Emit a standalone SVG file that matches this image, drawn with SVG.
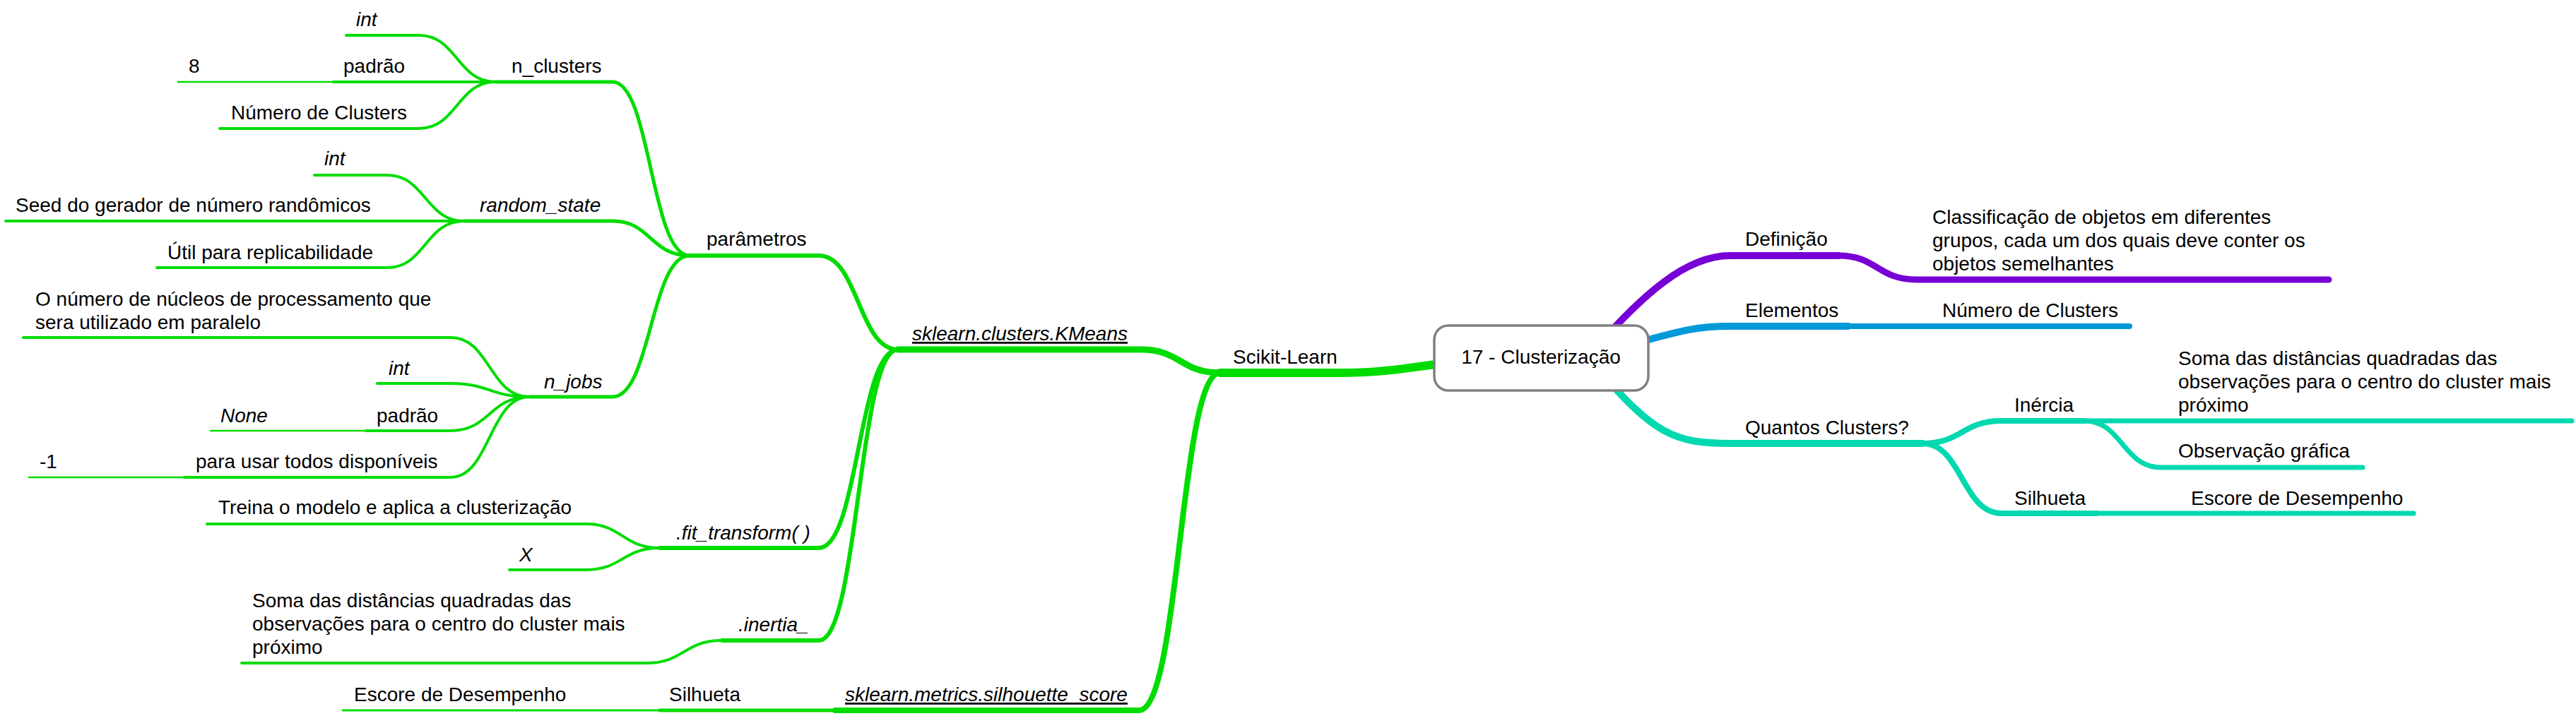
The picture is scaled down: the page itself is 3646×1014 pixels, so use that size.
<svg xmlns="http://www.w3.org/2000/svg" width="3646" height="1014" viewBox="0 0 3646 1014">
<style>
text{font-family:"Liberation Sans",Arial,Helvetica,sans-serif;font-size:28px;fill:#000}
.i{font-style:italic}
.u{text-decoration:underline}
path{fill:none;stroke-linecap:round;stroke-linejoin:round}
.g{stroke:#00dc00}
.p{stroke:#7700d6}
.b{stroke:#0099d8}
.t{stroke:#00d8b0}
</style>
<rect width="3646" height="1014" fill="#fff"/>
<g id="connectors">
<path class="g" stroke-width="4" d="M490 50H593C647 50 647 116 701 116"/>
<path class="g" stroke-width="4" d="M472 116H701"/>
<path class="g" stroke-width="2.5" d="M252 116H472"/>
<path class="g" stroke-width="4" d="M311 182H593C647 182 647 116 701 116"/>
<path class="g" stroke-width="5" d="M701 116H867C921 116 921 362 976 362"/>
<path class="g" stroke-width="4" d="M445 248H548C602 248 602 313 657 313"/>
<path class="g" stroke-width="4" d="M8 313H657"/>
<path class="g" stroke-width="5" d="M657 313H867C921 313 921 362 976 362"/>
<path class="g" stroke-width="4" d="M222 379H548C602 379 602 313 657 313"/>
<path class="g" stroke-width="6" d="M976 362H1159C1215 362 1215 495 1271 495"/>
<path class="g" stroke-width="4" d="M33 478H638C693 478 693 562 749 562"/>
<path class="g" stroke-width="4" d="M534 543H638C693 543 693 562 749 562"/>
<path class="g" stroke-width="5" d="M749 562H867C921 562 921 362 976 362"/>
<path class="g" stroke-width="4" d="M518 610H638C693 610 693 562 749 562"/>
<path class="g" stroke-width="2.5" d="M298 610H518"/>
<path class="g" stroke-width="4" d="M261 676H638C693 676 693 562 749 562"/>
<path class="g" stroke-width="2.5" d="M41 676H261"/>
<path class="g" stroke-width="4" d="M293 742H829C881 742 881 776 934 776"/>
<path class="g" stroke-width="4" d="M721 807H829C881 807 881 776 934 776"/>
<path class="g" stroke-width="6" d="M934 776H1159C1215 776 1215 495 1271 495"/>
<path class="g" stroke-width="4" d="M342 939H915C968 939 968 907 1022 907"/>
<path class="g" stroke-width="6" d="M1022 907H1159C1215 907 1215 495 1271 495"/>
<path class="g" stroke-width="3" d="M485 1006H934"/>
<path class="g" stroke-width="5" d="M934 1006H1182"/>
<path class="g" stroke-width="8" d="M1182 1006H1612C1670 1006 1670 528 1727 528"/>
<path class="g" stroke-width="9" d="M1271 495H1615C1671 495 1671 528 1727 528"/>
<path class="g" stroke-width="12" d="M1727 528H1893C1960 528 1990 521 2040 515"/>
<path class="p" stroke-width="10" d="M2250 500C2300 450 2370 362 2449 362H2602"/>
<path class="p" stroke-width="9" d="M2602 362C2657 362 2657 396 2713 396H3296"/>
<path class="b" stroke-width="10" d="M2300 490C2380 468 2400 462 2449 462H2616"/>
<path class="b" stroke-width="8" d="M2616 462H3014"/>
<path class="t" stroke-width="10" d="M2260 520C2340 615 2370 628 2449 628H2721"/>
<path class="t" stroke-width="8" d="M2721 628C2777 628 2777 596 2833 596H2950"/>
<path class="t" stroke-width="7" d="M2950 596H3640"/>
<path class="t" stroke-width="7" d="M2950 596C3004 596 3004 662 3059 662H3344"/>
<path class="t" stroke-width="8" d="M2721 628C2777 628 2777 727 2833 727H2967"/>
<path class="t" stroke-width="7" d="M2967 727H3416"/>
</g>
<g id="root"><rect x="2030" y="461" width="303" height="92" rx="20" fill="#fff" stroke="#808080" stroke-width="3.5"/><text x="2181" y="515" text-anchor="middle">17 - Clusterização</text></g>
<g id="n-int-a"><text class="i" x="504" y="37">int</text></g>
<g id="n-padrao-a"><text x="486" y="103">padrão</text></g>
<g id="n-8"><text x="267" y="103">8</text></g>
<g id="n-numero-a"><text x="327" y="169">Número de Clusters</text></g>
<g id="n-nclusters"><text x="724" y="103">n_clusters</text></g>
<g id="n-int-b"><text class="i" x="459" y="234">int</text></g>
<g id="n-seed"><text x="22" y="300">Seed do gerador de número randômicos</text></g>
<g id="n-random"><text class="i" x="679" y="300">random_state</text></g>
<g id="n-util"><text x="237" y="367">Útil para replicabilidade</text></g>
<g id="n-parametros"><text x="1000" y="348">parâmetros</text></g>
<g id="n-nucleos"><text x="50" y="433">O número de núcleos de processamento que<tspan x="50" dy="33">sera utilizado em paralelo</tspan></text></g>
<g id="n-int-c"><text class="i" x="550" y="531">int</text></g>
<g id="n-njobs"><text class="i" x="770" y="550">n_jobs</text></g>
<g id="n-padrao-b"><text x="533" y="598">padrão</text></g>
<g id="n-none"><text class="i" x="312" y="598">None</text></g>
<g id="n-parausar"><text x="277" y="663">para usar todos disponíveis</text></g>
<g id="n-minus1"><text x="56" y="663">-1</text></g>
<g id="n-treina"><text x="309" y="728">Treina o modelo e aplica a clusterização</text></g>
<g id="n-x"><text class="i" x="735" y="795">X</text></g>
<g id="n-fit"><text class="i" x="957" y="764">.fit_transform( )</text></g>
<g id="n-soma-l"><text x="357" y="860">Soma das distâncias quadradas das<tspan x="357" dy="33">observações para o centro do cluster mais</tspan><tspan x="357" dy="33">próximo</tspan></text></g>
<g id="n-inertia"><text class="i" x="1045" y="894">.inertia_</text></g>
<g id="n-escore-l"><text x="501" y="993">Escore de Desempenho</text></g>
<g id="n-silhueta-l"><text x="947" y="993">Silhueta</text></g>
<g id="n-silscore"><text class="i u" x="1196" y="993">sklearn.metrics.silhouette_score</text></g>
<g id="n-kmeans"><text class="i u" x="1291" y="482">sklearn.clusters.KMeans</text></g>
<g id="n-scikit"><text x="1745" y="515">Scikit-Learn</text></g>
<g id="n-definicao"><text x="2470" y="348">Definição</text></g>
<g id="n-classif"><text x="2735" y="317">Classificação de objetos em diferentes<tspan x="2735" dy="33">grupos, cada um dos quais deve conter os</tspan><tspan x="2735" dy="33">objetos semelhantes</tspan></text></g>
<g id="n-elementos"><text x="2470" y="449">Elementos</text></g>
<g id="n-numero-r"><text x="2749" y="449">Número de Clusters</text></g>
<g id="n-quantos"><text x="2470" y="615">Quantos Clusters?</text></g>
<g id="n-inercia"><text x="2851" y="583">Inércia</text></g>
<g id="n-soma-r"><text x="3083" y="517">Soma das distâncias quadradas das<tspan x="3083" dy="33">observações para o centro do cluster mais</tspan><tspan x="3083" dy="33">próximo</tspan></text></g>
<g id="n-observacao"><text x="3083" y="648">Observação gráfica</text></g>
<g id="n-silhueta-r"><text x="2851" y="715">Silhueta</text></g>
<g id="n-escore-r"><text x="3101" y="715">Escore de Desempenho</text></g>
</svg>
